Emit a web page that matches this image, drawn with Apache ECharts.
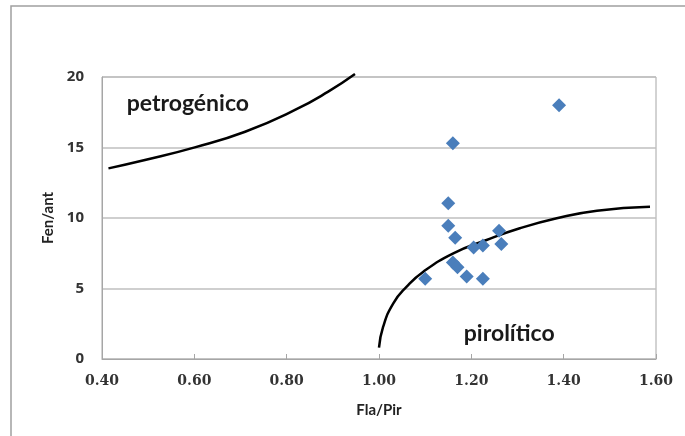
<!DOCTYPE html>
<html>
<head>
<meta charset="utf-8">
<script src="https://cdn.jsdelivr.net/npm/echarts@6/dist/echarts.min.js"></script>
<style>
  html, body { margin: 0; padding: 0; background: #fff; }
  #chart { width: 685px; height: 436px; }
</style>
</head>
<body>
<div id="chart"></div>
<script>
// muestras (Fla/Pir, Fen/ant)
const flaPir = [1.39, 1.16, 1.15, 1.15, 1.165, 1.26, 1.265, 1.205, 1.225, 1.16, 1.17, 1.19, 1.225, 1.10]
const fenAnt = [18.0, 15.3, 11.05, 9.45, 8.6, 9.1, 8.15, 7.9, 8.05, 6.85, 6.5, 5.85, 5.7, 5.7]

// curva limite petrogenico
const petroX = [0.414, 0.493, 0.601, 0.710, 0.818, 0.890, 0.948]
const petroY = [13.52, 14.11, 15.01, 16.12, 17.66, 18.96, 20.21]

// curva limite pirolitico
const piroX = [1.0, 1.009, 1.031, 1.06, 1.096, 1.161, 1.233, 1.305, 1.385, 1.472, 1.587]
const piroY = [0.8, 2.29, 3.95, 5.13, 6.19, 7.49, 8.44, 9.27, 9.98, 10.52, 10.8]

// etiquetas de zona
const zoneNames = ['petrogénico', 'pirolítico']
const zoneX = [0.586, 1.282]
const zoneY = [18.1, 1.8]

const pairs = (xs, ys) => xs.map((v, i) => [v, ys[i]])

const myChart = echarts.init(document.getElementById('chart'))
myChart.setOption({
  animation: false,
  backgroundColor: '#fff',
  grid: {
    left: 102,
    right: 29,
    top: 77,
    bottom: 77,
    show: true,
    borderColor: '#a6a6a6',
    borderWidth: 1
  },
  graphic: [
    {
      type: 'polyline',
      shape: { points: [[11, 436], [11, 6], [685, 6]] },
      style: { stroke: '#a0a0a0', lineWidth: 1.5, fill: null }
    }
  ],
  xAxis: {
    type: 'value',
    min: 0.4,
    max: 1.6,
    interval: 0.2,
    name: 'Fla/Pir',
    nameLocation: 'middle',
    nameGap: 44,
    nameTextStyle: { color: '#222', fontWeight: 'bold', fontSize: 15, fontFamily: 'Lato' },
    axisLine: { lineStyle: { color: '#a6a6a6' } },
    axisTick: { show: true, inside: true, length: 5, lineStyle: { color: '#a6a6a6' } },
    splitLine: { show: false },
    axisLabel: {
      color: '#333',
      fontWeight: 'bold',
      fontSize: 14,
      fontFamily: 'DejaVu Serif',
      margin: 15,
      formatter: (v) => v.toFixed(2)
    }
  },
  yAxis: {
    type: 'value',
    min: 0,
    max: 20,
    interval: 5,
    name: 'Fen/ant',
    nameLocation: 'middle',
    nameGap: 46,
    nameTextStyle: { color: '#222', fontWeight: 'bold', fontSize: 15, fontFamily: 'Lato' },
    axisLine: { show: true, lineStyle: { color: '#a6a6a6' } },
    axisTick: { show: false },
    splitLine: { lineStyle: { color: '#bfbfbf', width: 1.5 } },
    axisLabel: {
      color: '#333',
      fontWeight: 'bold',
      fontSize: 15,
      fontFamily: 'Open Sans',
      margin: 18
    }
  },
  series: [
    {
      type: 'line',
      data: pairs(petroX, petroY),
      smooth: true,
      showSymbol: false,
      clip: false,
      lineStyle: { color: '#000', width: 2.5 }
    },
    {
      type: 'line',
      data: pairs(piroX, piroY),
      smooth: true,
      showSymbol: false,
      clip: false,
      lineStyle: { color: '#000', width: 2.5 }
    },
    {
      type: 'scatter',
      data: pairs(flaPir, fenAnt),
      symbol: 'diamond',
      symbolSize: [14, 14],
      itemStyle: { color: '#4a7ebb', opacity: 1 },
      z: 3
    },
    {
      type: 'scatter',
      silent: true,
      symbolSize: 0,
      itemStyle: { opacity: 1 },
      data: zoneNames.map((n, i) => ({ value: [zoneX[i], zoneY[i]], name: n })),
      label: {
        show: true,
        position: 'inside',
        formatter: (p) => p.name,
        color: '#1a1a1a',
        textBorderWidth: 0,
        fontSize: 23,
        fontWeight: 'bold',
        fontFamily: 'Lato'
      }
    }
  ]
})
</script>
</body>
</html>
